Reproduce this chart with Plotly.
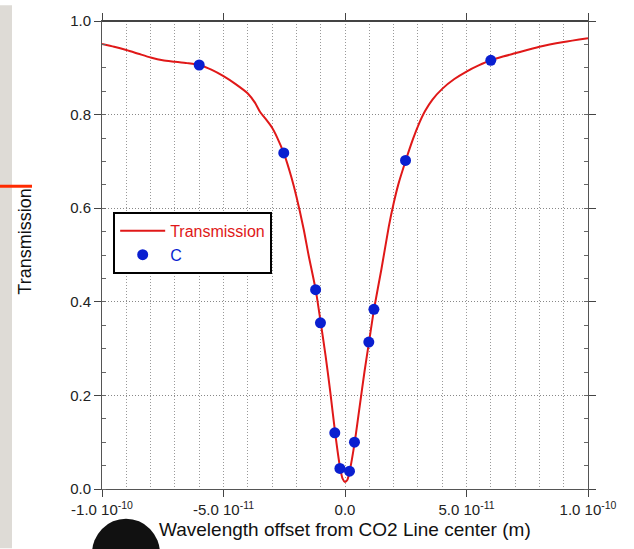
import plotly.graph_objects as go

# Transmission curve (wavelength offset in m, transmission)
curve_x = [-100e-12, -95e-12, -90e-12, -85e-12, -80e-12, -75e-12, -70e-12, -65e-12, -60e-12,
           -55e-12, -50e-12, -45e-12, -40e-12, -37e-12, -35e-12, -33e-12, -30e-12, -28e-12,
           -25e-12, -22e-12, -20e-12, -17e-12, -15e-12, -12e-12, -10e-12, -8e-12, -6e-12,
           -4e-12, -2e-12, -1e-12, 0.0, 1e-12, 2e-12, 4e-12, 6e-12, 8e-12, 10e-12, 12e-12,
           15e-12, 18e-12, 20e-12, 22e-12, 25e-12, 28e-12, 30e-12, 33e-12, 36e-12, 40e-12,
           45e-12, 50e-12, 55e-12, 60e-12, 65e-12, 70e-12, 80e-12, 90e-12, 100e-12]
curve_y = [0.951, 0.945, 0.938, 0.930, 0.922, 0.916, 0.913, 0.910, 0.906,
           0.896, 0.882, 0.865, 0.845, 0.825, 0.806, 0.793, 0.772, 0.752,
           0.715, 0.665, 0.625, 0.555, 0.500, 0.424, 0.356, 0.285, 0.205,
           0.118, 0.045, 0.022, 0.015, 0.020, 0.040, 0.100, 0.175, 0.250, 0.318, 0.386,
           0.470, 0.560, 0.610, 0.652, 0.702, 0.748, 0.775, 0.808, 0.832, 0.855,
           0.876, 0.892, 0.905, 0.916, 0.924, 0.931, 0.945, 0.955, 0.963]

# Measured points "C"
c_x = [-60e-12, -25.2e-12, -12.1e-12, -10.1e-12, -4.2e-12, -2.1e-12,
       1.85e-12, 3.9e-12, 9.8e-12, 11.9e-12, 24.9e-12, 60e-12]
c_y = [0.906, 0.718, 0.426, 0.355, 0.120, 0.044,
       0.038, 0.100, 0.314, 0.384, 0.702, 0.916]

x_tickvals = [-1e-10, -5e-11, 0.0, 5e-11, 1e-10]
x_ticktext = ["-1.0 10<sup>-10</sup>", "-5.0 10<sup>-11</sup>", "0.0",
              "5.0 10<sup>-11</sup>", "1.0 10<sup>-10</sup>"]
y_tickvals = [0.0, 0.2, 0.4, 0.6, 0.8, 1.0]
y_ticktext = ["0.0", "0.2", "0.4", "0.6", "0.8", "1.0"]

RED = "#e01818"
BLUE = "#0a1fd0"
FONT = "Liberation Sans, Arial, sans-serif"
GRIDDASH = "1px,2px"

fig = go.Figure()
fig.add_trace(go.Scatter(
    x=curve_x, y=curve_y, mode="lines",
    line=dict(color=RED, width=2, shape="spline", smoothing=0.6),
    name="<span style='color:%s'>Transmission</span>" % RED,
))
fig.add_trace(go.Scatter(
    x=c_x, y=c_y, mode="markers",
    marker=dict(color=BLUE, size=11),
    name="<span style='color:%s'>C</span>" % BLUE,
))

L, R, T, B = 102, 46, 16, 60
PW, PH = 634 - L - R, 549 - T - B
fig.update_layout(
    width=634, height=549,
    margin=dict(l=L, r=R, t=T, b=B),
    paper_bgcolor="white", plot_bgcolor="white",
    font=dict(family=FONT, color="#222", size=14),
    showlegend=True,
    legend=dict(
        x=0.023, y=0.592, xanchor="left", yanchor="top",
        bgcolor="white", bordercolor="black", borderwidth=2,
        font=dict(family=FONT, size=16),
        tracegroupgap=0, itemwidth=45,
    ),
    xaxis=dict(
        range=[-1e-10, 1e-10],
        tickvals=x_tickvals, ticktext=x_ticktext,
        ticks="outside", ticklen=7, tickcolor="#444",
        showline=True, linecolor="#555", linewidth=1, mirror="allticks",
        showgrid=True, gridcolor="#999999", griddash=GRIDDASH, gridwidth=1,
        zeroline=False,
        minor=dict(dtick=1e-11, showgrid=True, gridcolor="#999999",
                   griddash=GRIDDASH, gridwidth=1, ticks=""),
        tickfont=dict(size=15, color="#222"),
    ),
    yaxis=dict(
        range=[0, 1.0],
        tickvals=y_tickvals, ticktext=y_ticktext,
        ticks="outside", ticklen=7, tickcolor="#444",
        showline=True, linecolor="#555", linewidth=1, mirror="allticks",
        showgrid=True, gridcolor="#888888", griddash=GRIDDASH, gridwidth=1,
        zeroline=False,
        minor=dict(dtick=0.05, ticks="inside", ticklen=4, tickcolor="#666",
                   showgrid=False),
        tickfont=dict(size=15, color="#222"),
    ),
    annotations=[
        dict(text="Transmission", xref="paper", yref="paper",
             x=(25 - L) / PW, y=(549 - B - 239) / PH,
             textangle=-90, showarrow=False, xanchor="center", yanchor="middle",
             font=dict(family=FONT, size=18, color="#111")),
        dict(text="Wavelength offset from CO2 Line center (m)", xref="paper", yref="paper",
             x=0.5, y=(549 - B - 530) / PH,
             showarrow=False, xanchor="center", yanchor="middle",
             font=dict(family=FONT, size=19, color="#111")),
    ],
    shapes=[
        # slide background strip at the left edge
        dict(type="rect", xref="paper", yref="paper", layer="below",
             x0=-L / PW, x1=(12 - L) / PW, y0=-B / PH,
             y1=(549 - B) / PH, fillcolor="#dedbd6", line=dict(width=0)),
        # red accent bar
        dict(type="line", xref="paper", yref="paper",
             x0=-L / PW, x1=(32 - L) / PW,
             y0=(549 - B - 183) / PH, y1=(549 - B - 183) / PH,
             line=dict(color="#ff2a00", width=3)),
        # thick top border line
        dict(type="line", xref="paper", yref="paper", x0=0, x1=1, y0=1, y1=1,
             line=dict(color="#444", width=2)),
        # dark blob at the bottom (photo of speaker)
        dict(type="circle", xref="paper", yref="paper", layer="below",
             x0=(92 - L) / PW, x1=(160 - L) / PW,
             y0=(549 - B - 590) / PH, y1=(549 - B - 519) / PH,
             fillcolor="#111", line=dict(width=0)),
    ],
)

fig.write_html("out.html")
